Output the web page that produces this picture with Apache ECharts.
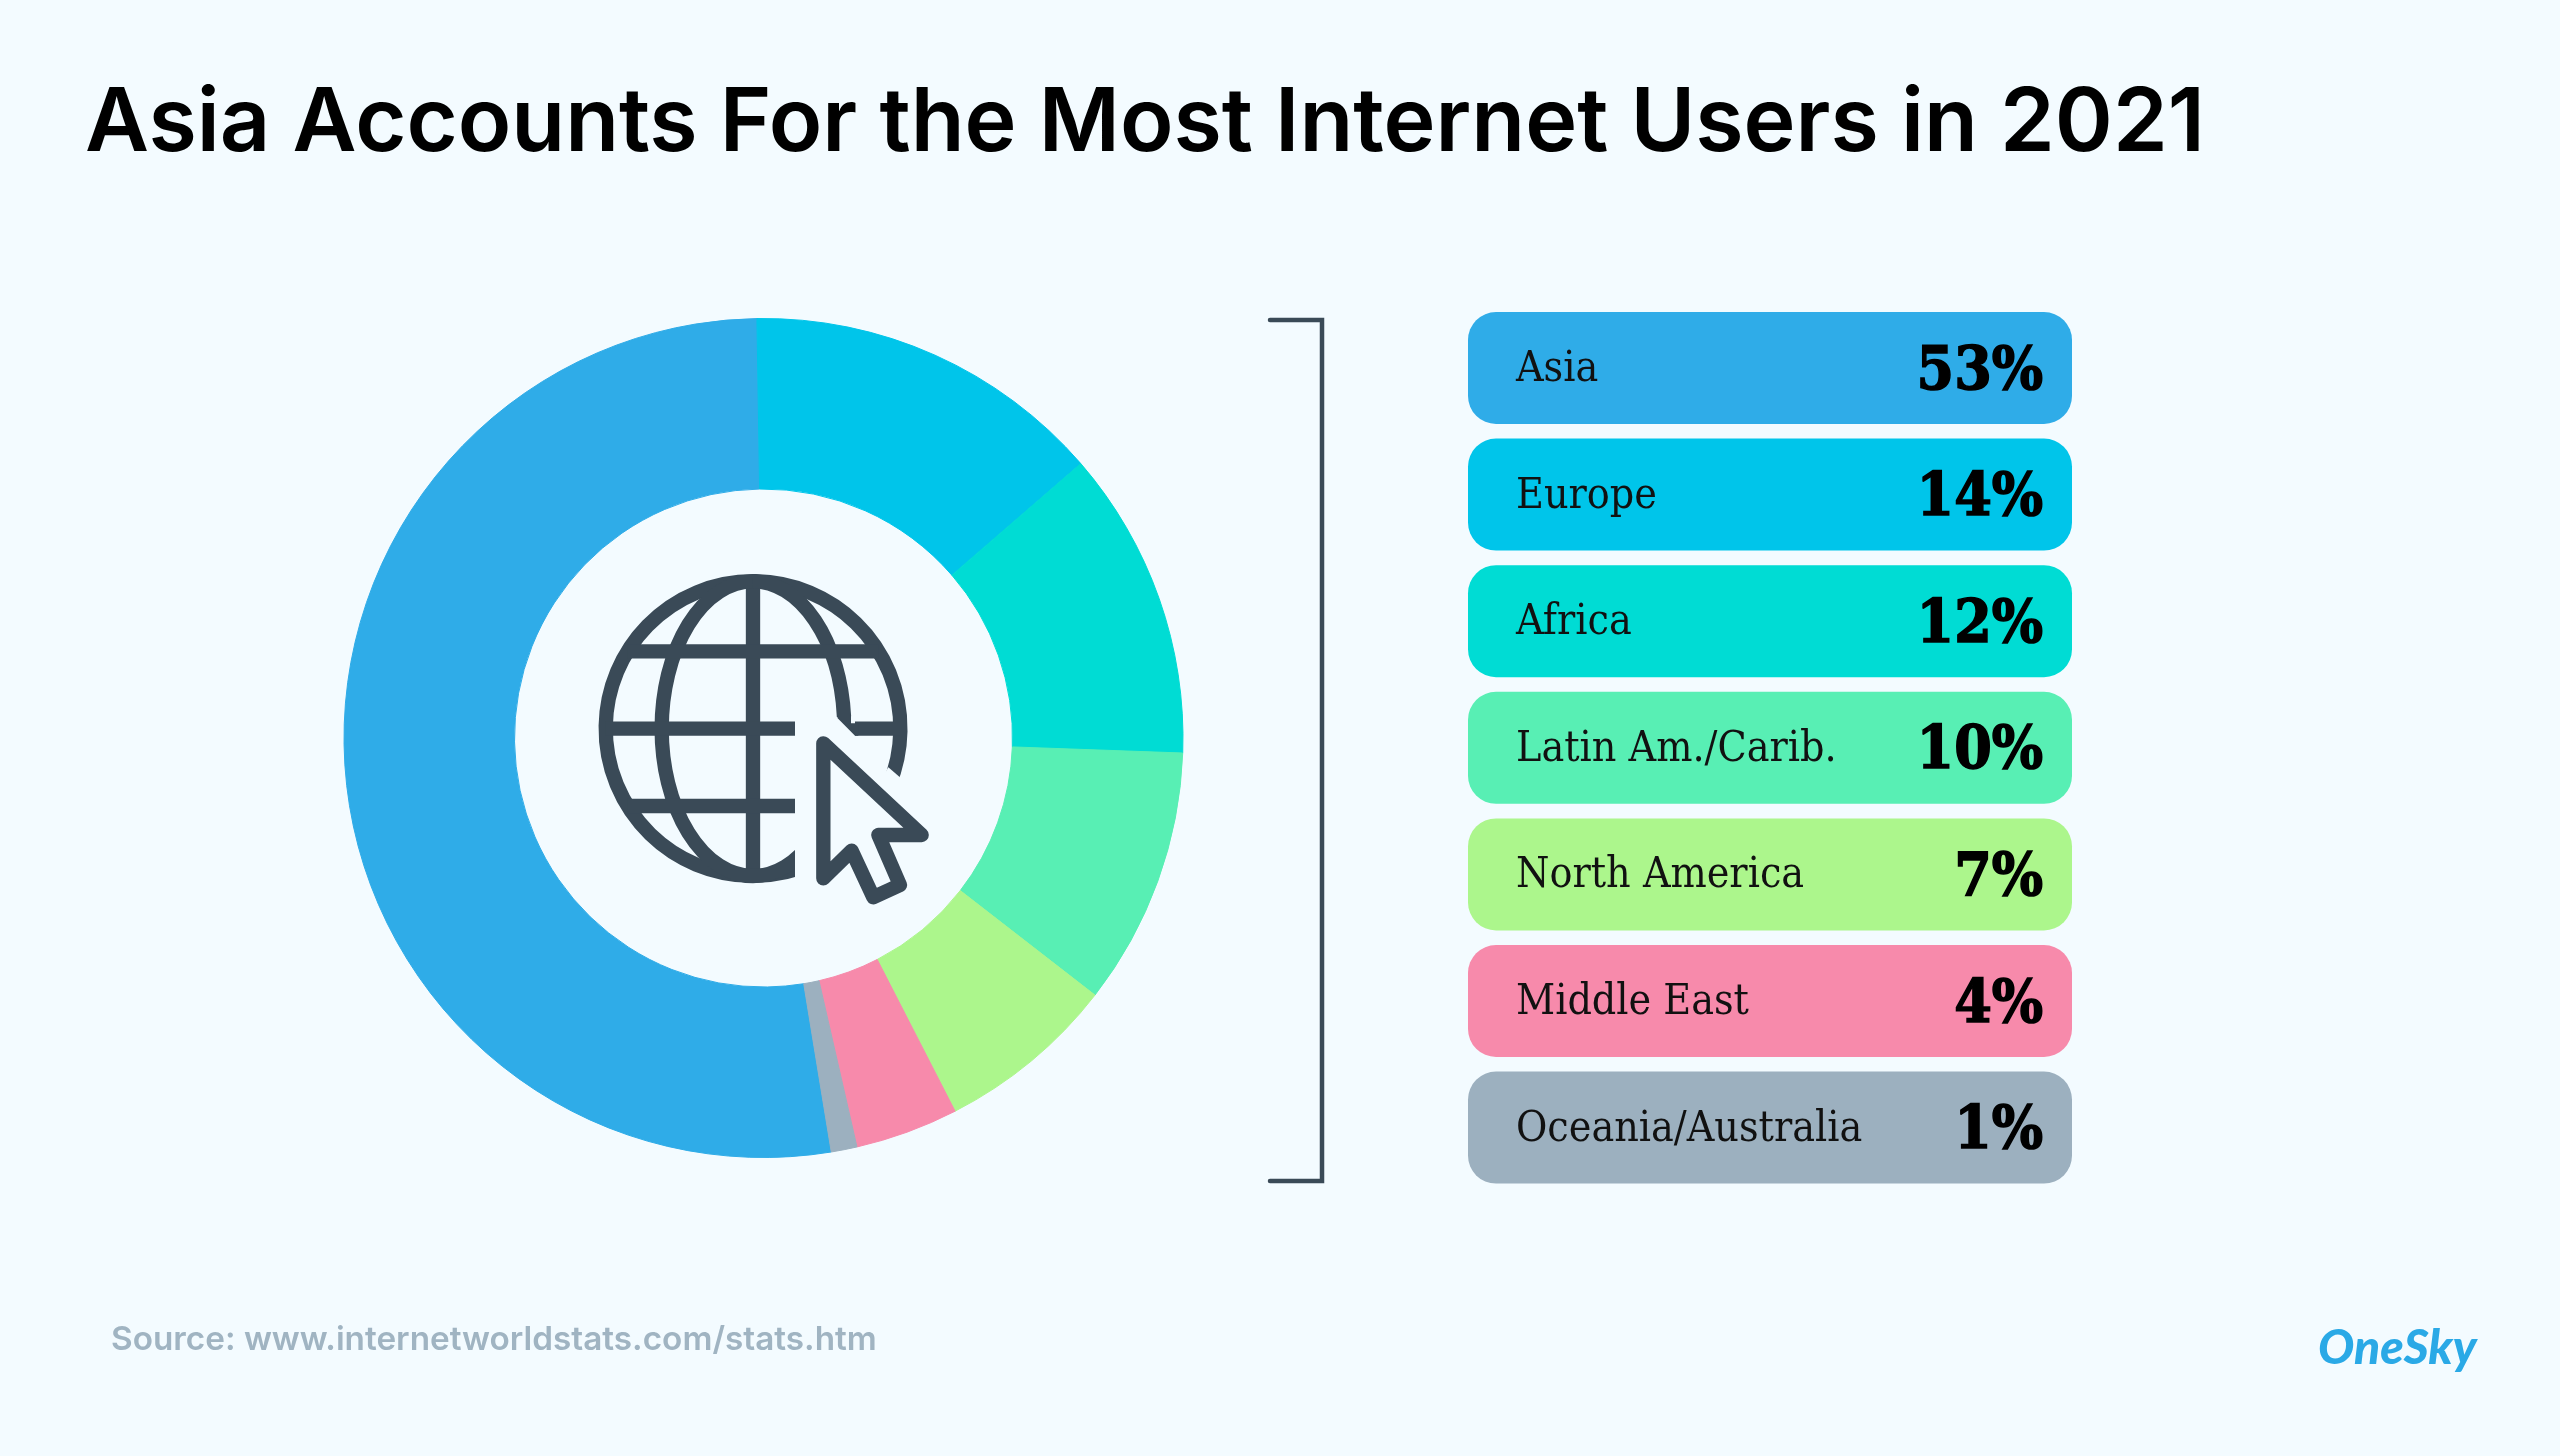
<!DOCTYPE html>
<html>
<head>
    <meta charset="utf-8">
    <title>Asia Accounts For the Most Internet Users in 2021</title>
    <script src="https://cdn.jsdelivr.net/npm/echarts@6/dist/echarts.min.js"></script>
    <style>
        html, body { margin: 0; padding: 0; background: #F3FBFF; }
        #chart { width: 2560px; height: 1456px; }
    </style>
</head>
<body>
<div id="chart"></div>
<script>
    var regions = ['Asia', 'Europe', 'Africa', 'Latin Am./Carib.', 'North America', 'Middle East', 'Oceania/Australia'];
    var shares = [53, 14, 12, 10, 7, 4, 1];
    // 扇形按图上量到的大小，和标注的百分比略有出入
    var sliceValues = [52.7, 14, 12, 10, 7, 4, 1];
    var colors = ['#2FACE8', '#00C5EA', '#00DCD4', '#58EFB4', '#ACF68C', '#F78AAB', '#9CB0BF'];

    var bg = '#F3FBFF';
    var dark = '#3A4A57';
    var myChart = echarts.init(document.getElementById('chart'));

    // 右边的色块列表
    var rows = [];
    regions.forEach(function (name, i) {
        var top = 312 + i * 126.6;
        rows.push({
            type: 'rect',
            shape: { x: 1468, y: top, width: 604, height: 112, r: 28 },
            style: { fill: colors[i] }
        });
        rows.push({
            type: 'text',
            x: 1516, y: top + 58,
            style: {
                text: name, fill: '#111', font: 'condensed 42.5px "DejaVu Serif"',
                textAlign: 'left', textVerticalAlign: 'middle'
            }
        });
        rows.push({
            type: 'text',
            x: 2043, y: top + 61,
            style: {
                text: shares[i] + '%', fill: '#000', stroke: '#000', lineWidth: 1.5,
                font: 'bold condensed 60px "DejaVu Serif"',
                textAlign: 'right', textVerticalAlign: 'middle'
            }
        });
    });

    // 地球和鼠标图标，坐标按放大 3 倍量的
    var iconLine = { fill: 'none', stroke: dark, lineWidth: 43, lineJoin: 'miter' };
    var iconPaths = [
        'M 927 676 A 442 442 0 1 0 700 909',
        'M 519 64 L 519 948',
        'M 519 64 A 274 442 0 0 0 519 948 A 274 442 0 0 0 700 838',
        'M 519 64 A 274 442 0 0 1 792 470',
        'M 825 506 L 960 506',
        'M 143 274 L 895 274',
        'M 77 506 L 645 506',
        'M 143 738 L 645 738'
    ];
    function iconPath(d, style) {
        return { type: 'path', shape: { pathData: d }, style: style };
    }
    function renderIcon() {
        return {
            type: 'group', x: 580, y: 560, scaleX: 1 / 3, scaleY: 1 / 3,
            children: iconPaths.map(function (d) {
                return iconPath(d, iconLine);
            }).concat([
                // 经线和横线的斜接处
                iconPath('M 771 465 L 813 465 L 813 490 L 835 490 L 835 527 L 825 527 L 773 475 Z', { fill: dark }),
                // 盖掉鼠标旁边多出来的线头
                iconPath('M 645 800 L 712 800 L 712 990 L 645 990 Z', { fill: bg }),
                iconPath('M 925 622 L 1010 695 L 950 760 L 880 700 Z', { fill: bg }),
                iconPath('M 730 550 L 730 955 L 815 872 L 880 1012 L 960 975 L 895 825 L 1025 825 Z',
                    { fill: 'none', stroke: dark, lineWidth: 43, lineJoin: 'round' })
            ])
        };
    }

    myChart.setOption({
        animation: false,
        backgroundColor: bg,
        title: {
            text: 'Asia Accounts For the Most Internet Users in 2021',
            left: 80, top: 76,
            textStyle: { fontFamily: 'Inter', fontWeight: 600, fontSize: 88, color: '#000' }
        },
        series: [{
            type: 'pie',
            center: [763.5, 738],
            radius: [249, 419.5],
            startAngle: 279.3,
            silent: true,
            label: { show: false },
            labelLine: { show: false },
            data: regions.map(function (name, i) {
                return {
                    name: name,
                    value: sliceValues[i],
                    itemStyle: { color: colors[i], borderColor: colors[i], borderWidth: 1 }
                };
            })
        }, {
            type: 'custom',
            coordinateSystem: 'none',
            silent: true,
            data: [[0]],
            renderItem: renderIcon
        }],
        graphic: rows.concat([
            {
                type: 'polyline',
                shape: { points: [[1270, 320], [1322, 320], [1322, 1181], [1270, 1181]] },
                style: { fill: null, stroke: dark, lineWidth: 4.5, lineCap: 'round' }
            },
            {
                type: 'text', x: 111, y: 1340,
                style: {
                    text: 'Source: www.internetworldstats.com/stats.htm', fill: '#A0B4C2',
                    font: '600 33.3px Inter', textAlign: 'left', textVerticalAlign: 'middle'
                }
            },
            {
                type: 'text', x: 2318, y: 1349,
                style: {
                    text: 'OneSky', fill: '#2AA9E6',
                    font: 'italic 900 48px Lato', textAlign: 'left', textVerticalAlign: 'middle'
                }
            }
        ])
    });
</script>
</body>
</html>
